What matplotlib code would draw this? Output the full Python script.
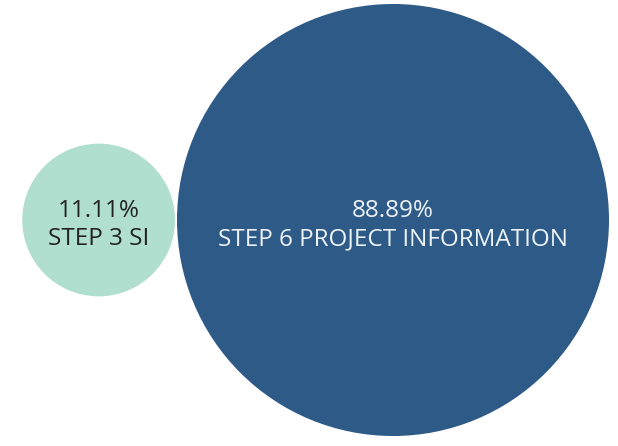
import numpy as np
import matplotlib.pyplot as plt
from matplotlib.patches import Circle

# share of records per step
steps = ['STEP 3 SI', 'STEP 6 PROJECT INFORMATION']
shares = [11.11, 88.89]
colors = ['#b1dfcf', '#2d5a87']
text_colors = ['#222222', '#eef3f8']

W, H = 618, 446
fig = plt.figure(figsize=(W / 100, H / 100), dpi=100)
ax = fig.add_axes([0, 0, 1, 1])
ax.set_xlim(0, W)
ax.set_ylim(H, 0)
ax.set_aspect('equal')
ax.axis('off')

# bubble area proportional to share
scale = 216 / np.sqrt(max(shares))
radii = [scale * np.sqrt(s) for s in shares]

# big bubble anchors the layout, small one sits just to its left
cy = 220
big_x = 393
centers = [(big_x - radii[1] - radii[0] - 2, cy), (big_x, cy)]

for (x, y), r, c, tc, s, name in zip(centers, radii, colors, text_colors, shares, steps):
    ax.add_patch(Circle((x, y), r, facecolor=c, edgecolor='none'))
    ax.text(x, y + 5, f'{s:.2f}%\n{name}', ha='center', va='center',
            color=tc, fontsize=17.5, family='Open Sans', linespacing=1.25)

fig.savefig('out.png', dpi=100, facecolor='white')
